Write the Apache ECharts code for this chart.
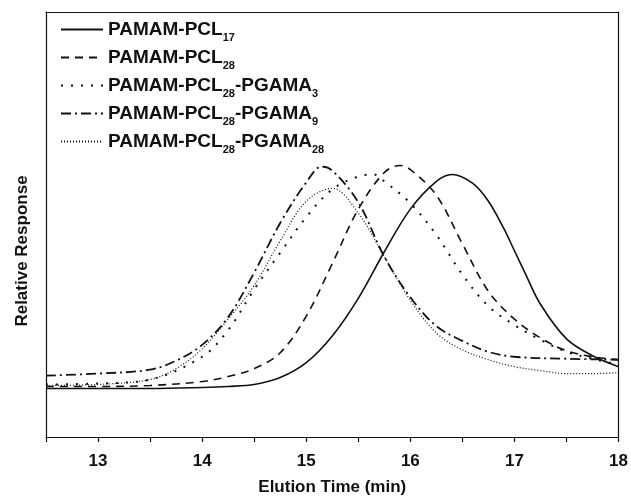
<!DOCTYPE html>
<html>
<head>
<meta charset="utf-8">
<script src="https://cdn.jsdelivr.net/npm/echarts@6/dist/echarts.min.js"></script>
<style>
html,body{margin:0;padding:0;background:#fff;}
#chart{width:631px;height:501px;}
</style>
</head>
<body>
<div id="chart"></div>
<script>
// Series data (x = elution time in min, y = relative response, arbitrary units)
var pcl17X = [12.5, 13, 13.5, 14, 14.25, 14.5, 14.75, 15, 15.25, 15.5, 15.75, 16, 16.25, 16.4, 16.6, 16.75, 16.9, 17, 17.1, 17.25, 17.5, 17.75, 18];
var pcl17Y = [49, 49, 49, 50, 51, 53, 60, 75, 102, 140, 187, 230, 258, 265, 256, 238, 210, 188, 166, 134, 99, 82, 71];

var pcl28X = [12.5, 13, 13.5, 14, 14.25, 14.5, 14.75, 15, 15.25, 15.5, 15.75, 15.9, 16, 16.25, 16.5, 16.75, 17, 17.25, 17.5, 17.75, 18];
var pcl28Y = [51, 51, 52, 56, 61, 69, 85, 122, 175, 230, 267, 274, 270, 244, 195, 147, 119, 100, 87, 81, 78];

var pgama3X = [12.5, 13, 13.5, 14, 14.25, 14.5, 14.75, 15, 15.25, 15.5, 15.65, 15.75, 16, 16.25, 16.5, 16.75, 17, 17.25, 17.5, 17.75, 18];
var pgama3Y = [53, 54, 58, 81, 108, 149, 186, 222, 250, 263, 265, 258, 236, 204, 164, 132, 113, 98, 86, 79, 73];

var pgama9X = [12.5, 13, 13.5, 13.75, 14, 14.25, 14.5, 14.75, 15, 15.15, 15.25, 15.5, 15.75, 16, 16.25, 16.5, 16.75, 17, 17.5, 18];
var pgama9Y = [62, 64, 68, 77, 93, 121, 166, 216, 257, 273, 269, 237, 182, 141, 112, 97, 86, 81, 79, 78];

var pgama28X = [12.5, 13, 13.5, 13.75, 14, 14.25, 14.5, 14.75, 15, 15.25, 15.5, 15.75, 16, 16.25, 16.5, 16.75, 17, 17.25, 17.5, 17.75, 18];
var pgama28Y = [52, 53, 58, 69, 89, 119, 153, 198, 238, 251, 226, 182, 138, 105, 88, 78, 71, 67, 64, 64, 65];

var seriesNames = ['PAMAM-PCL17', 'PAMAM-PCL28', 'PAMAM-PCL28-PGAMA3', 'PAMAM-PCL28-PGAMA9', 'PAMAM-PCL28-PGAMA28'];
var legendLabels = ['PAMAM-PCL{s|17}', 'PAMAM-PCL{s|28}', 'PAMAM-PCL{s|28}-PGAMA{s|3}', 'PAMAM-PCL{s|28}-PGAMA{s|9}', 'PAMAM-PCL{s|28}-PGAMA{s|28}'];
var xTicks = [13, 14, 15, 16, 17, 18];
var xTitle = 'Elution Time (min)';
var yTitle = 'Relative Response';

function pairs(xs, ys) { return xs.map(function (x, i) { return [x, ys[i]]; }); }

var styles = [
  {type: 'solid', width: 1.6},
  {type: [8, 6], width: 1.6},
  {type: [2, 8], width: 2},
  {type: [10, 4, 2, 4], width: 1.8},
  {type: [1, 2], width: 1.2}
];
var datasets = [pairs(pcl17X, pcl17Y), pairs(pcl28X, pcl28Y), pairs(pgama3X, pgama3Y), pairs(pgama9X, pgama9Y), pairs(pgama28X, pgama28Y)];

var chart = echarts.init(document.getElementById('chart'), null, {renderer: 'canvas'});
var font = 'Liberation Sans, Arial, sans-serif';
var black = '#111';
chart.setOption({
  animation: false,
  backgroundColor: '#fff',
  grid: {left: 46, right: 10, top: 12, bottom: 60},
  graphic: [{
    type: 'text', x: 22, y: 251, rotation: Math.PI / 2,
    style: {text: yTitle, font: 'bold 17px Liberation Sans, Arial, sans-serif', fill: black, align: 'center', verticalAlign: 'middle'}
  }],
  legend: {
    orient: 'vertical', left: 60, top: 20, padding: 0, itemWidth: 42, itemHeight: 14, itemGap: 5,
    data: seriesNames,
    itemStyle: {opacity: 0},
    formatter: function (name) { return legendLabels[seriesNames.indexOf(name)]; },
    textStyle: {
      fontFamily: font, fontSize: 19, fontWeight: 'bold', color: black,
      rich: {s: {fontFamily: font, fontSize: 11, fontWeight: 'bold', color: black, padding: [16, 0, 0, 0]}}
    }
  },
  xAxis: [{
    type: 'value', min: 12.5, max: 18, interval: 0.5,
    name: xTitle, nameLocation: 'middle', nameGap: 42,
    nameTextStyle: {fontFamily: font, fontSize: 17, fontWeight: 'bold', color: black},
    axisLine: {show: true, onZero: false, lineStyle: {color: black, width: 1.2}},
    axisTick: {show: true, inside: false, length: 5, lineStyle: {color: black, width: 1.2}},
    axisLabel: {
      fontFamily: font, fontSize: 17, fontWeight: 'bold', color: black, margin: 16,
      formatter: function (v) { return xTicks.indexOf(v) >= 0 ? String(v) : ''; }
    },
    splitLine: {show: false}
  }, {
    type: 'value', min: 12.5, max: 18, position: 'top',
    axisLine: {show: true, onZero: false, lineStyle: {color: black, width: 1.2}},
    axisTick: {show: false}, axisLabel: {show: false}, splitLine: {show: false}
  }],
  yAxis: [{
    type: 'value', min: 0, max: 429,
    axisLine: {show: true, onZero: false, lineStyle: {color: black, width: 1.2}},
    axisTick: {show: false}, axisLabel: {show: false}, splitLine: {show: false}
  }, {
    type: 'value', min: 0, max: 429, position: 'right',
    axisLine: {show: true, onZero: false, lineStyle: {color: black, width: 1.2}},
    axisTick: {show: false}, axisLabel: {show: false}, splitLine: {show: false}
  }],
  series: seriesNames.map(function (n, i) {
    return {
      name: n, type: 'line', data: datasets[i], smooth: 0.35, showSymbol: false, symbol: 'none',
      lineStyle: {color: black, width: styles[i].width, type: styles[i].type},
      itemStyle: {color: black}
    };
  })
});
</script>
</body>
</html>
